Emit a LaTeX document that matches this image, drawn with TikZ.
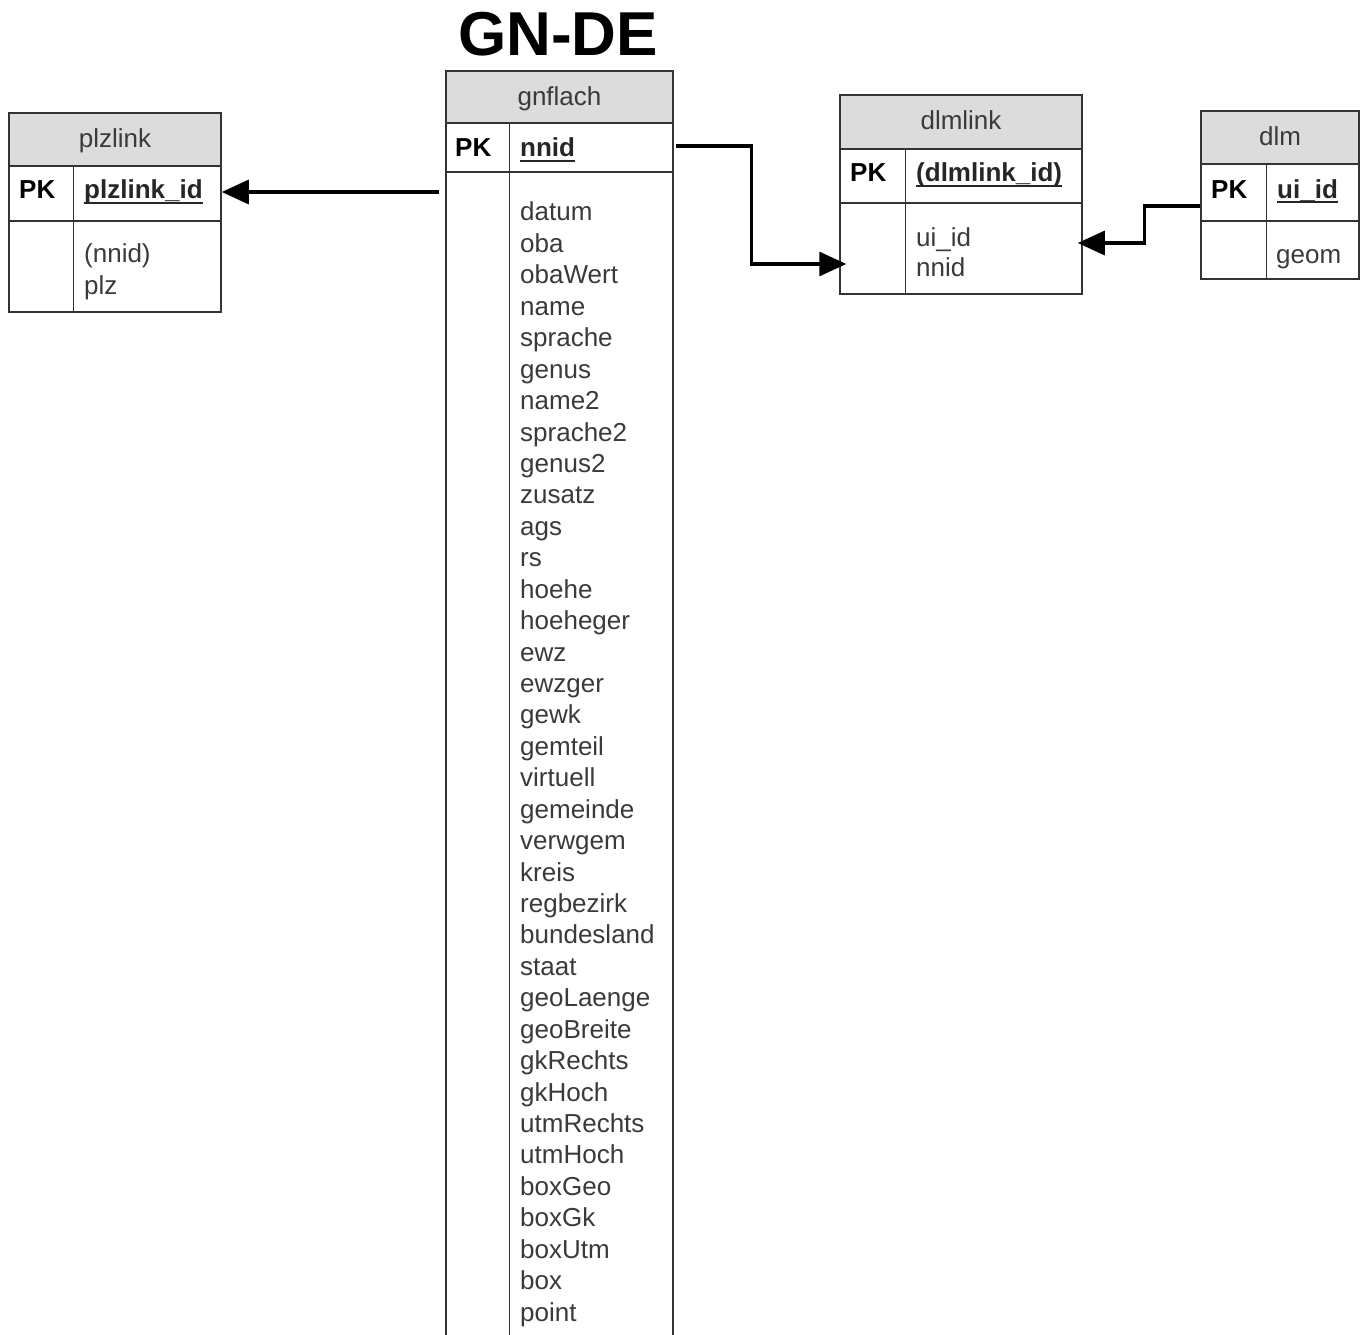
\documentclass[tikz,border=0pt]{standalone}
\usepackage{fontspec}
\setmainfont{Liberation Sans}
\usetikzlibrary{arrows.meta}
\definecolor{hdr}{HTML}{DCDCDC}
\definecolor{edge}{HTML}{333333}
\definecolor{txt}{HTML}{3A3A3A}
\newcommand\myul[1]{\setbox0\hbox{#1}\rlap{\vrule height -3.0pt depth 4.8pt width \wd0}\box0}
\begin{document}
\begin{tikzpicture}[x=1pt,y=-1pt,
  cell/.style={draw=edge, line width=1.5pt, rectangle, inner sep=0pt},
  hcell/.style={cell, fill=hdr},
  htext/.style={anchor=base, inner sep=0pt, text=txt, font=\fontsize{26}{31}\selectfont},
  pktext/.style={anchor=base west, inner sep=0pt, text=black, font=\fontsize{26}{31}\selectfont\bfseries},
  keytext/.style={anchor=base west, inner sep=0pt, text=black!85, font=\fontsize{26}{31}\selectfont\bfseries},
  ftext/.style={anchor=base west, inner sep=0pt, text=txt, font=\fontsize{26}{31}\selectfont},
  divline/.style={draw=edge, line width=1.5pt},
  conn/.style={draw=black, line width=3.2pt, -{Triangle[length=27pt,width=24pt]}}
]
\useasboundingbox (0,0) rectangle (1369,1335);
\fill[white] (0,0) rectangle (1369,1335);

% title
\node[anchor=base, inner sep=0pt, font=\fontsize{62}{70}\selectfont\bfseries] (title) at (558,56) {GN-DE};

% plzlink
\node[hcell, minimum width=212pt, minimum height=53pt] (plzhead) at (115,139.5) {};
\node[cell, minimum width=212pt, minimum height=55pt] (plzpk) at (115,193.5) {};
\node[cell, minimum width=212pt, minimum height=91pt] (plzbody) at (115,266.5) {};
\draw[divline] ([xshift=65pt]plzpk.north west) -- ([xshift=65pt]plzbody.south west);
\node[htext] (plzname) at (115,148) {plzlink};
\node[pktext] (plzpkl) at (19,199) {PK};
\node[keytext] (plzid) at (84,199) {\myul{plzlink\_id}};
\node[ftext] (plzf1) at (84,262) {(nnid)};
\node[ftext] (plzf2) at (84,294) {plz};

% gnflach
\node[hcell, minimum width=227pt, minimum height=52pt] (gnhead) at (559.5,97) {};
\node[cell, minimum width=227pt, minimum height=49pt] (gnpk) at (559.5,147.5) {};
\node[cell, minimum width=227pt, minimum height=1180pt] (gnbody) at (559.5,762) {};
\draw[divline] ([xshift=64pt]gnpk.north west) -- ([xshift=64pt]gnbody.south west);
\node[htext] (gnname) at (559.5,106) {gnflach};
\node[pktext] (gnpkl) at (455,157) {PK};
\node[keytext] (gnid) at (520,157) {\myul{nnid}};
\foreach \f [count=\i from 0] in {datum,oba,obaWert,name,sprache,genus,name2,sprache2,genus2,zusatz,ags,rs,hoehe,hoeheger,ewz,ewzger,gewk,gemteil,virtuell,gemeinde,verwgem,kreis,regbezirk,bundesland,staat,geoLaenge,geoBreite,gkRechts,gkHoch,utmRechts,utmHoch,boxGeo,boxGk,boxUtm,box,point}
  \node[ftext] (gnf\i) at (520,221+\i*31.43) {\f};

% dlmlink
\node[hcell, minimum width=242pt, minimum height=54pt] (dlhead) at (961,122) {};
\node[cell, minimum width=242pt, minimum height=54pt] (dlpk) at (961,176) {};
\node[cell, minimum width=242pt, minimum height=91pt] (dlbody) at (961,248.5) {};
\draw[divline] ([xshift=66pt]dlpk.north west) -- ([xshift=66pt]dlbody.south west);
\node[htext] (dlname) at (961,130) {dlmlink};
\node[pktext] (dlpkl) at (850,182) {PK};
\node[keytext] (dlid) at (916,182) {\myul{(dlmlink\_id)}};
\node[ftext] (dlf1) at (916,246) {ui\_id};
\node[ftext] (dlf2) at (916,276) {nnid};

% dlm
\node[hcell, minimum width=158pt, minimum height=53pt] (dmhead) at (1280,137.5) {};
\node[cell, minimum width=158pt, minimum height=57pt] (dmpk) at (1280,192.5) {};
\node[cell, minimum width=158pt, minimum height=58pt] (dmbody) at (1280,250) {};
\draw[divline] ([xshift=66pt]dmpk.north west) -- ([xshift=66pt]dmbody.south west);
\node[htext] (dmname) at (1280,146) {dlm};
\node[pktext] (dmpkl) at (1211,198) {PK};
\node[keytext] (dmid) at (1277,198) {\myul{ui\_id}};
\node[ftext] (dmf1) at (1276,263) {geom};

% connectors
\coordinate (pstart) at ([xshift=-6pt]gnbody.west |- 0,192);
\draw[conn] (pstart) -- (plzpk.east |- pstart);
\coordinate (gstart) at ([xshift=2pt]gnpk.east |- 0,146);
\coordinate (dlin) at ([xshift=7pt]dlbody.west |- 0,264);
\draw[conn] (gstart) -- ++(76,0) |- (dlin);
\coordinate (mstart) at (dmpk.west |- 0,206);
\coordinate (dmin) at ([xshift=-5pt]dlbody.east |- 0,243);
\draw[conn] (mstart) -- ++(-56,0) |- (dmin);
\end{tikzpicture}
\end{document}
